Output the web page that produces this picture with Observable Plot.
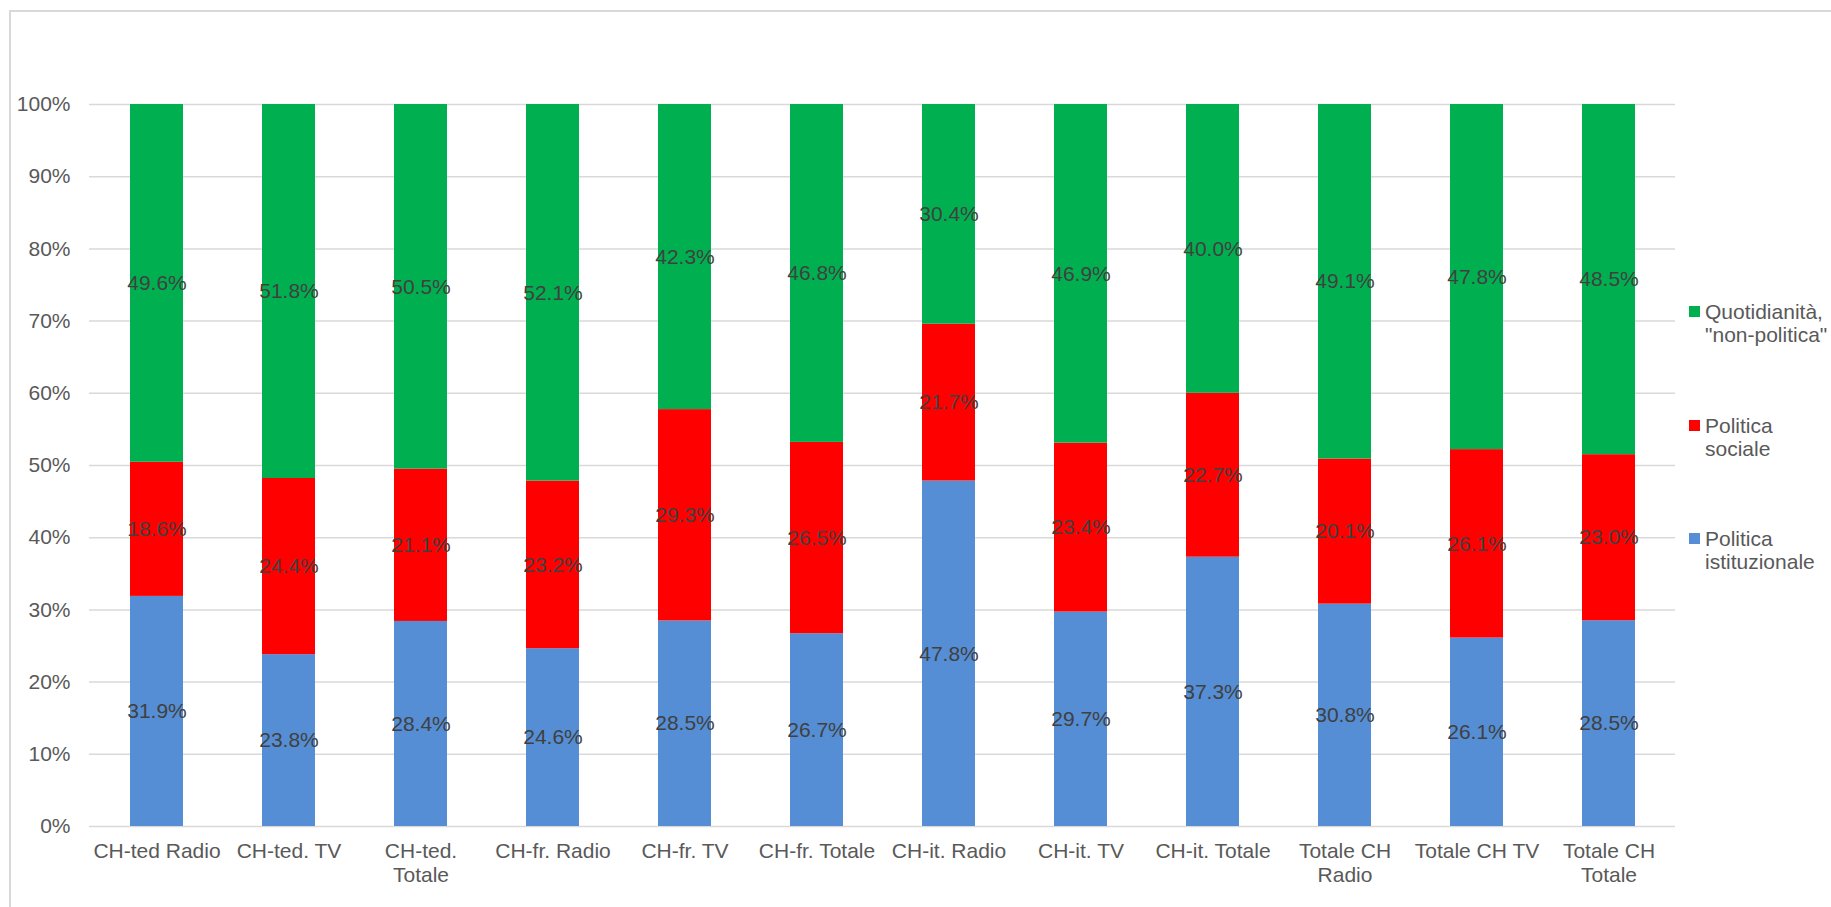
<!DOCTYPE html>
<html><head><meta charset="utf-8">
<script src="https://cdn.jsdelivr.net/npm/d3@7"></script>
<script src="https://cdn.jsdelivr.net/npm/@observablehq/plot@0.6"></script>
<style>
html,body{margin:0;padding:0;background:#fff;overflow:hidden}
#wrap{position:relative;width:1831px;height:907px;overflow:hidden;font-family:"Liberation Sans",Arial,sans-serif;background:#fff}
#frame{position:absolute;left:9px;top:10px;width:1900px;height:1000px;border:2px solid #d9d9d9;box-sizing:border-box}
#chart{position:absolute;left:0;top:0}
.entry{position:absolute;left:1689px;font-size:21px;line-height:23px;color:#595959;white-space:nowrap}
.sw{position:absolute;left:0;top:6px;width:11px;height:11px}
.lt{position:absolute;left:16px;top:0}
</style></head><body>
<div id="wrap"><div id="frame"></div><div id="chart"></div><div id="legend"></div></div>
<script>
const categories = ["CH-ted Radio","CH-ted. TV","CH-ted. Totale","CH-fr. Radio","CH-fr. TV","CH-fr. Totale","CH-it. Radio","CH-it. TV","CH-it. Totale","Totale CH Radio","Totale CH TV","Totale CH Totale"];
const tickLabels = ["CH-ted Radio","CH-ted. TV","CH-ted.\nTotale","CH-fr. Radio","CH-fr. TV","CH-fr. Totale","CH-it. Radio","CH-it. TV","CH-it. Totale","Totale CH\nRadio","Totale CH TV","Totale CH\nTotale"];
const series = ["Politica istituzionale","Politica sociale","Quotidianità, \"non-politica\""];
const colors = ["#558ED5","#FF0000","#00B050"];
const istituzionale = [31.9,23.8,28.4,24.6,28.5,26.7,47.8,29.7,37.3,30.8,26.1,28.5];
const sociale = [18.6,24.4,21.1,23.2,29.3,26.5,21.7,23.4,22.7,20.1,26.1,23.0];
const quotidianita = [49.6,51.8,50.5,52.1,42.3,46.8,30.4,46.9,40.0,49.1,47.8,48.5];
const yTicks = [0,10,20,30,40,50,60,70,80,90,100];
const legendEntries = [
  {series: 2, lines: ["Quotidianità,", "\"non-politica\""], top: 300},
  {series: 1, lines: ["Politica", "sociale"], top: 414},
  {series: 0, lines: ["Politica", "istituzionale"], top: 527}
];

const valuesBySeries = [istituzionale, sociale, quotidianita];
const rows = [];
series.forEach((s, i) => categories.forEach((c, j) => rows.push({cat: c, series: s, value: valuesBySeries[i][j]})));
const labelOf = new Map(categories.map((c, i) => [c, tickLabels[i]]));
const yt = yTicks.map(v => v / 100);

const chart = Plot.plot({
  width: 1831, height: 907,
  marginTop: 104, marginBottom: 81, marginLeft: 89, marginRight: 156,
  style: {fontFamily: "'Liberation Sans', Arial, sans-serif", fontSize: "21px", color: "#595959", background: "transparent"},
  x: {domain: categories, paddingInner: 0.6, paddingOuter: 0.3, label: null},
  y: {domain: [0, 1], label: null},
  color: {domain: series, range: colors},
  marks: [
    Plot.gridY(yt, {stroke: "#d9d9d9", strokeOpacity: 1, strokeWidth: 1.5}),
    Plot.barY(rows, Plot.stackY({x: "cat", y: "value", fill: "series", order: series, offset: "normalize"})),
    Plot.text(rows, Plot.stackY({x: "cat", y: "value", z: "series", order: series, offset: "normalize",
      text: d => d.value.toFixed(1) + "%", fill: "#404040", fontSize: 21})),
    Plot.axisY(yt, {tickSize: 0, tickPadding: 19, tickFormat: d => Math.round(d * 100) + "%", label: null}),
    Plot.axisX({tickSize: 0, tickPadding: 14, tickFormat: d => labelOf.get(d), lineHeight: 1.15, label: null})
  ]
});
document.getElementById("chart").appendChild(chart);

const legend = d3.select("#legend");
legendEntries.forEach(e => {
  const div = legend.append("div").attr("class", "entry").style("top", e.top + "px");
  div.append("div").attr("class", "sw").style("background", colors[e.series]);
  const t = div.append("div").attr("class", "lt");
  e.lines.forEach(l => t.append("div").text(l));
});
</script>
</body></html>
